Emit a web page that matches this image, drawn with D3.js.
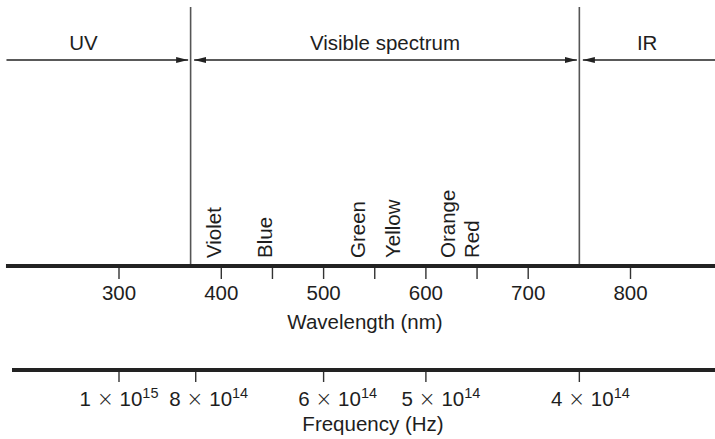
<!DOCTYPE html>
<html>
<head>
<meta charset="utf-8">
<script src="https://cdn.jsdelivr.net/npm/d3@7/dist/d3.min.js"></script>
<style>
  html, body { margin: 0; padding: 0; background: #fff; }
  svg { display: block; }
  text { font-family: "Liberation Sans", Arial, Helvetica, sans-serif; fill: #1e1e1e; }
</style>
</head>
<body>
<div id="chart"></div>
<script>
// ---- Data ----
const wavelengthTicks = [300, 400, 500, 600, 700, 800];
const minorWavelengthTicks = [450, 550, 650];
const wavelengthExtent = [190, 885];
const regionBounds = [370, 750];
const regionNames = ["UV", "Visible spectrum", "IR"];
const colorNames = ["Violet", "Blue", "Green", "Yellow", "Orange", "Red"];
const colorWavelengths = [400, 450, 540, 575, 628, 652];
const frequencyTicks = [1e15, 8e14, 6e14, 5e14, 4e14];
const frequencyMantissa = ["1", "8", "6", "5", "4"];
const frequencyExponent = ["15", "14", "14", "14", "14"];
const frequencyLabelShift = [0, 13, 14, 15, 11];
const wavelengthTitle = "Wavelength (nm)";
const frequencyTitle = "Frequency (Hz)";

// ---- Layout ----
const W = 715, H = 439;
const yArrow = 60, yWave = 266, yFreq = 370, yTop = 7;
const ink = "#222";

const svg = d3.select("#chart").append("svg").attr("width", W).attr("height", H);

const x = d3.scaleLinear().domain([300, 800]).range([119, 630.5]);
// frequency mapped through wavelength = c / f (nm)
const xf = f => x(3e17 / f);

const fs = 20.5;

// Region boundary lines
svg.selectAll("line.bound").data(regionBounds).join("line")
  .attr("class", "bound")
  .attr("x1", d => x(d)).attr("x2", d => x(d))
  .attr("y1", yTop).attr("y2", yWave - 2)
  .attr("stroke", "#555").attr("stroke-width", 1.6);

// Arrow markers
const defs = svg.append("defs");
defs.append("marker").attr("id", "ah")
  .attr("viewBox", "0 0 12 6").attr("refX", 12).attr("refY", 3)
  .attr("markerWidth", 12).attr("markerHeight", 6)
  .attr("markerUnits", "userSpaceOnUse").attr("orient", "auto-start-reverse")
  .append("path").attr("d", "M0,0 L12,3 L0,6 Z").attr("fill", ink);

const regions = [
  { name: regionNames[0], from: wavelengthExtent[0], to: regionBounds[0], startHead: false, endHead: true },
  { name: regionNames[1], from: regionBounds[0], to: regionBounds[1], startHead: true, endHead: true },
  { name: regionNames[2], from: regionBounds[1], to: wavelengthExtent[1], startHead: true, endHead: false }
];
const gap = 2.5;
svg.selectAll("line.arrow").data(regions).join("line")
  .attr("class", "arrow")
  .attr("x1", d => x(d.from) + (d.startHead ? gap + 1 : 0))
  .attr("x2", d => x(d.to) - (d.endHead ? gap : 0))
  .attr("y1", yArrow).attr("y2", yArrow)
  .attr("stroke", ink).attr("stroke-width", 1.3)
  .attr("marker-start", d => d.startHead ? "url(#ah)" : null)
  .attr("marker-end", d => d.endHead ? "url(#ah)" : null);

const regionLabelPos = [
  (x(wavelengthExtent[0]) + x(regionBounds[0])) / 2 - 15,
  (x(regionBounds[0]) + x(regionBounds[1])) / 2,
  (x(regionBounds[1]) + W) / 2
];
svg.selectAll("text.region").data(regions).join("text")
  .attr("class", "region")
  .attr("x", (d, i) => regionLabelPos[i]).attr("y", 50)
  .attr("text-anchor", "middle").attr("font-size", fs)
  .text(d => d.name);

// Color labels (rotated)
svg.selectAll("text.color").data(colorNames).join("text")
  .attr("class", "color")
  .attr("transform", (d, i) => `translate(${x(colorWavelengths[i])},258) rotate(-90)`)
  .attr("font-size", fs)
  .text(d => d);

// Wavelength axis
svg.append("line")
  .attr("x1", x(wavelengthExtent[0]) - 0.5).attr("x2", W)
  .attr("y1", yWave).attr("y2", yWave)
  .attr("stroke", ink).attr("stroke-width", 4);

svg.selectAll("line.wtick").data(wavelengthTicks.concat(minorWavelengthTicks)).join("line")
  .attr("class", "wtick")
  .attr("x1", d => x(d)).attr("x2", d => x(d))
  .attr("y1", yWave + 2).attr("y2", yWave + 13)
  .attr("stroke", "#333").attr("stroke-width", 1.4);

svg.selectAll("text.wlab").data(wavelengthTicks).join("text")
  .attr("class", "wlab")
  .attr("x", d => x(d)).attr("y", 300)
  .attr("text-anchor", "middle").attr("font-size", fs)
  .text(d => d);

svg.append("text")
  .attr("x", 365).attr("y", 329)
  .attr("text-anchor", "middle").attr("font-size", fs)
  .text(wavelengthTitle);

// Frequency axis
svg.append("line")
  .attr("x1", 12).attr("x2", W)
  .attr("y1", yFreq).attr("y2", yFreq)
  .attr("stroke", ink).attr("stroke-width", 4);

svg.selectAll("line.ftick").data(frequencyTicks).join("line")
  .attr("class", "ftick")
  .attr("x1", d => xf(d)).attr("x2", d => xf(d))
  .attr("y1", yFreq + 2).attr("y2", yFreq + 12)
  .attr("stroke", "#333").attr("stroke-width", 1.4);

const flab = svg.selectAll("text.flab").data(frequencyTicks).join("text")
  .attr("class", "flab")
  .attr("x", (d, i) => xf(d) + frequencyLabelShift[i]).attr("y", 406)
  .attr("text-anchor", "middle").attr("font-size", fs);
flab.append("tspan").text((d, i) => frequencyMantissa[i] + " ");
flab.append("tspan").attr("font-family", "'DejaVu Sans', sans-serif").attr("font-weight", 300).text("\u00d7");
flab.append("tspan").text(" 10");
flab.append("tspan").attr("dy", -8).attr("font-size", 14.5).text((d, i) => frequencyExponent[i]);

svg.append("text")
  .attr("x", 373).attr("y", 431)
  .attr("text-anchor", "middle").attr("font-size", fs)
  .text(frequencyTitle);
</script>
</body>
</html>
